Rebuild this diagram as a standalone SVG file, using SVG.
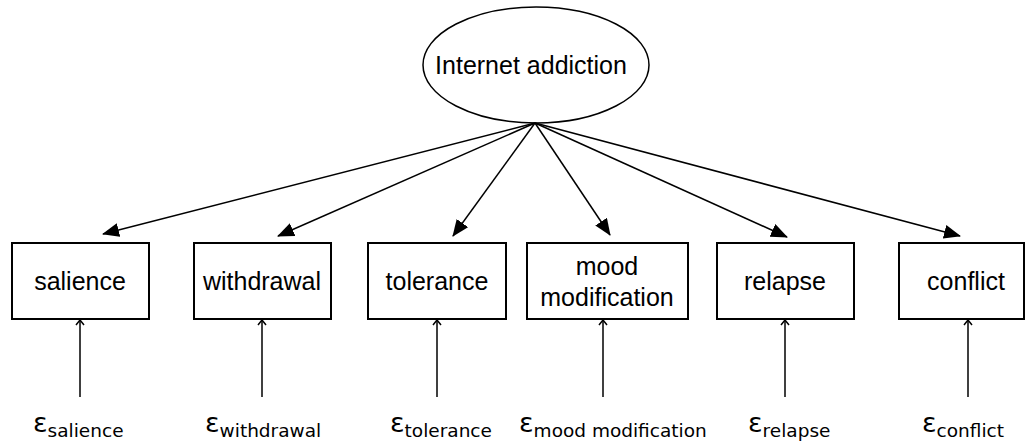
<svg xmlns="http://www.w3.org/2000/svg" width="1026" height="441" viewBox="0 0 1026 441">
<style>
.box{fill:#fff;stroke:#000;stroke-width:2}
.lbl{font-family:"Liberation Sans",Arial,sans-serif;font-size:25px;fill:#000;text-anchor:middle}
.eps{font-family:"DejaVu Sans",sans-serif;font-size:27px;fill:#000}
.sub{font-size:18.5px}
.conn line{stroke:#000;stroke-width:1.5}
</style>
<defs>
<marker id="ah" markerWidth="17" markerHeight="14" refX="16" refY="7" orient="auto" markerUnits="userSpaceOnUse">
<path d="M0,0 L17,7 L0,14 z" fill="#000"/>
</marker>
<marker id="oa" markerWidth="10" markerHeight="10" refX="5" refY="1" orient="0" markerUnits="userSpaceOnUse">
<path d="M1,6 L5,1 L9,6" fill="none" stroke="#000" stroke-width="1.5"/>
</marker>
</defs>
<rect width="1026" height="441" fill="#fff"/>
<g id="internet-addiction">
<ellipse cx="536" cy="65" rx="113" ry="58" fill="#fff" stroke="#000" stroke-width="1.5"/>
<text class="lbl" x="531" y="74">Internet addiction</text>
</g>
<g class="conn" id="connectors">
<line x1="535" y1="123" x2="103" y2="234" marker-end="url(#ah)"/>
<line x1="535" y1="123" x2="278" y2="236" marker-end="url(#ah)"/>
<line x1="535" y1="123" x2="453" y2="236" marker-end="url(#ah)"/>
<line x1="535" y1="123" x2="610" y2="235" marker-end="url(#ah)"/>
<line x1="535" y1="123" x2="787" y2="237" marker-end="url(#ah)"/>
<line x1="535" y1="123" x2="960" y2="236" marker-end="url(#ah)"/>
<line x1="80" y1="397" x2="80" y2="320" marker-end="url(#oa)"/>
<line x1="262" y1="397" x2="262" y2="320" marker-end="url(#oa)"/>
<line x1="437" y1="397" x2="437" y2="320" marker-end="url(#oa)"/>
<line x1="603" y1="397" x2="603" y2="320" marker-end="url(#oa)"/>
<line x1="785" y1="397" x2="785" y2="320" marker-end="url(#oa)"/>
<line x1="968" y1="397" x2="968" y2="320" marker-end="url(#oa)"/>
</g>
<g id="salience">
<rect class="box" x="12" y="243" width="137" height="76"/>
<text class="lbl" x="80" y="290">salience</text>
</g>
<g id="withdrawal">
<rect class="box" x="194" y="243" width="137" height="76"/>
<text class="lbl" x="262" y="290">withdrawal</text>
</g>
<g id="tolerance">
<rect class="box" x="368" y="243" width="138" height="76"/>
<text class="lbl" x="437" y="290">tolerance</text>
</g>
<g id="mood-modification">
<rect class="box" x="527" y="243" width="161" height="76"/>
<text class="lbl" x="607" y="275">mood</text>
<text class="lbl" x="607" y="306">modification</text>
</g>
<g id="relapse">
<rect class="box" x="717" y="243" width="137" height="76"/>
<text class="lbl" x="785" y="290">relapse</text>
</g>
<g id="conflict">
<rect class="box" x="899" y="243" width="125" height="76"/>
<text class="lbl" x="966" y="290">conflict</text>
</g>
<g id="errors">
<text class="eps" x="33" y="432">ε<tspan class="sub" dy="5">salience</tspan></text>
<text class="eps" x="205" y="432">ε<tspan class="sub" dy="5">withdrawal</tspan></text>
<text class="eps" x="390" y="432">ε<tspan class="sub" dy="5">tolerance</tspan></text>
<text class="eps" x="519" y="432">ε<tspan class="sub" dy="5">mood modification</tspan></text>
<text class="eps" x="748" y="432">ε<tspan class="sub" dy="5">relapse</tspan></text>
<text class="eps" x="922" y="432">ε<tspan class="sub" dy="5">conflict</tspan></text>
</g>
</svg>
